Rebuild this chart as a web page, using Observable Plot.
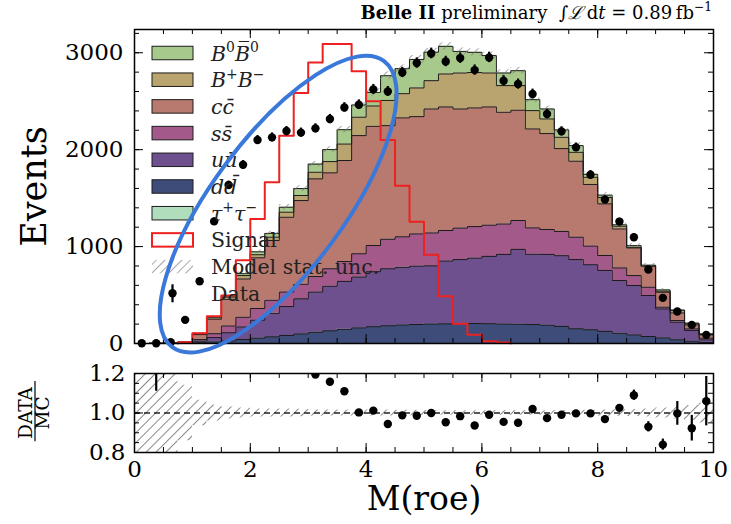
<!DOCTYPE html>
<html><head><meta charset="utf-8">
<script src="https://cdn.jsdelivr.net/npm/d3@7"></script>
<script src="https://cdn.jsdelivr.net/npm/@observablehq/plot@0.6"></script>
<style>
body{margin:0;background:#fff;}
#wrap{position:relative;width:731px;height:524px;overflow:hidden;font-family:"DejaVu Serif",serif;background:#fff;}
#main{position:absolute;left:0;top:0;}
#ratio{position:absolute;left:0;top:360px;}
</style></head><body><div id="wrap"><div id="main"></div><div id="ratio"></div></div>
<script>
// ---------------- data (40 bins of 0.25 in M(roe), 0..10) ----------------
const binWidth = 0.25;
const nBins = 40;
const tautau = [0,0,0,0,0,1,1,1,1,1,1,1,1,1,1,1,1,1,1,1,1,1,1,1,1,1,1,1,1,1,1,1,1,0,0,0,0,0,0,0];
const ddbar  = [0,0,0,2,8,15,25,40,55,68,82,98,115,130,145,160,172,182,190,195,200,202,205,205,203,200,198,195,188,175,151,141,124,106,89,72,58,38,24,10];
const uubar  = [0,1,2,3,17,45,85,130,185,242,298,362,415,460,495,525,568,588,595,602,600,648,660,675,695,718,772,725,730,730,714,671,629,544,509,423,299,182,110,28];
const ssbar  = [0,0,1,3,15,40,70,100,120,135,150,150,160,180,205,240,270,305,315,333,340,315,325,325,322,314,298,272,257,250,231,192,154,130,103,86,18,17,17,17];
const ccbar  = [0,1,2,4,52,150,275,395,523,617,772,864,1008,990,1042,1219,1230,1172,1227,1210,1279,1275,1229,1225,1220,1153,1138,1021,990,855,784,636,533,402,285,216,154,79,41,34];
const bpbm   = [0,0,0,2,8,15,23,35,32,34,52,52,68,116,170,190,210,260,250,296,292,340,371,365,350,275,254,189,151,117,92,74,65,28,7,3,11,24,11,4];
const b0b0   = [0,0,0,1,5,10,12,20,30,39,51,72,84,124,148,126,140,255,258,294,294,285,223,208,180,130,154,113,103,76,69,31,25,15,17,8,13,5,7,7];
const mcErr  = [1,2,3,3,7,11,15,18,19,23,28,30,28,30,33,37,39,41,40,41,39,37,36,36,36,33,34,30,29,29,29,26,25,22,20,18,14,10,8,5];
const signal = [0,0,0,14,106,280,495,860,1285,1663,2144,2584,2900,3090,3090,2810,2500,2100,1629,1255,917,488,205,90,24,10,0,0,0,0,0,0,0,0,0,0,0,0,0,0];
const dataVals = [3,3,13,244,642,1260,1635,1845,2100,2127,2192,2176,2220,2316,2436,2464,2622,2601,2797,2894,2993,2910,2945,2821,2952,2711,2677,2574,2368,2189,2024,1742,1485,1258,1096,763,471,330,192,89];
const dataErr  = [2,2,4,16,25,35,40,43,46,46,47,47,47,48,49,50,51,51,53,54,55,54,54,53,54,52,52,51,49,47,45,42,39,35,33,28,22,18,14,9];
// ratio panel
const ratioBins = [1,12,13,14,15,16,17,18,19,20,21,22,23,24,25,26,27,28,29,30,31,32,33,34,35,36,37,38,39];
const ratioVals = [1.6,1.195,1.158,1.11,1.003,1.012,0.944,0.988,0.986,1.0,0.953,0.984,0.937,0.991,0.955,0.951,1.02,0.974,0.991,0.998,0.998,0.969,1.026,1.09,0.93,0.84,0.998,0.923,1.06];
const ratioErr  = [0.49,0.02,0.015,0.015,0.013,0.013,0.013,0.013,0.013,0.013,0.013,0.013,0.013,0.013,0.013,0.013,0.013,0.013,0.013,0.014,0.014,0.015,0.017,0.026,0.026,0.028,0.06,0.065,0.125];
const ratioBand = [0.5,0.45,0.35,0.14,0.065,0.04,0.03,0.025,0.02,0.02,0.02,0.019,0.015,0.015,0.015,0.015,0.015,0.015,0.014,0.014,0.013,0.012,0.012,0.012,0.012,0.012,0.012,0.012,0.012,0.013,0.013,0.014,0.015,0.016,0.018,0.02,0.025,0.03,0.038,0.05];
// ticks
const xMajor = [0,2,4,6,8,10];
const xMinor = d3.range(0, 10.001, 0.5);
const yMajor = [0,1000,2000,3000];
const yMinor = d3.range(0, 3201, 200);
const rMajor = [0.8,1.0,1.2];
const rMinor = [0.8,0.85,0.9,0.95,1.0,1.05,1.1,1.15,1.2];
const colors = {tt:"#b0ddbc", dd:"#3e4c7a", uu:"#6f508e", ss:"#a35a8a", cc:"#b87a6e", bp:"#b9a46f", b0:"#a8c98c", sig:"#ee2020"};

// ---------------- derived geometry ----------------
const edges = d3.range(nBins + 1).map(i => i * binWidth);
const comps = [
  {c: colors.tt, v: tautau}, {c: colors.dd, v: ddbar}, {c: colors.uu, v: uubar},
  {c: colors.ss, v: ssbar}, {c: colors.cc, v: ccbar}, {c: colors.bp, v: bpbm}, {c: colors.b0, v: b0b0}
];
let base = new Array(nBins).fill(0);
const layers = comps.map(k => {
  const lo = base.slice();
  const hi = base.map((b, i) => b + k.v[i]);
  base = hi;
  const pts = edges.map((x, i) => ({x, lo: lo[Math.min(i, nBins - 1)], hi: hi[Math.min(i, nBins - 1)]}));
  return {color: k.c, pts};
});
const total = base;
const bins = d3.range(nBins).map(i => ({x0: edges[i], x1: edges[i + 1], t: total[i], e: mcErr[i]}));
const nz = d3.range(nBins).filter(i => signal[i] > 0);
const s0 = nz[0], s1 = nz[nz.length - 1];
const sigPts = [{x: edges[s0], y: 0}]
  .concat(d3.range(s0, s1 + 1).map(i => ({x: edges[i], y: signal[i]})))
  .concat([{x: edges[s1 + 1], y: signal[s1]}, {x: edges[s1 + 1], y: 0}]);
const dataPts = d3.range(nBins).map(i => ({x: edges[i] + binWidth / 2, v: dataVals[i], e: dataErr[i]}));
const ratioPts = ratioBins.map((b, j) => ({x: edges[b] + binWidth / 2, v: ratioVals[j], e: ratioErr[j]}));
const bandPts = edges.map((x, i) => ({x, e: ratioBand[Math.min(i, nBins - 1)]}));

const FONT = "DejaVu Serif";
const mW = 731, mH = 360, mL = 134, mR = 18, mT = 29, mB = 17;
const fw = mW - mL - mR, fh = mH - mT - mB;
const rH = 164, rT = 13, rB = 72, rfh = rH - rT - rB;

function inTicks(xMaj, xMin, yMaj, yMin, fwid, fhgt) {
  const M = 9, m = 5;
  return [
    Plot.tickX(xMin, {x: d => d, insetTop: fhgt - m, stroke: "black"}),
    Plot.tickX(xMaj, {x: d => d, insetTop: fhgt - M, stroke: "black"}),
    Plot.tickX(xMin, {x: d => d, insetBottom: fhgt - m, stroke: "black"}),
    Plot.tickX(xMaj, {x: d => d, insetBottom: fhgt - M, stroke: "black"}),
    Plot.tickY(yMin, {y: d => d, insetRight: fwid - m, stroke: "black"}),
    Plot.tickY(yMaj, {y: d => d, insetRight: fwid - M, stroke: "black"}),
    Plot.tickY(yMin, {y: d => d, insetLeft: fwid - m, stroke: "black"}),
    Plot.tickY(yMaj, {y: d => d, insetLeft: fwid - M, stroke: "black"})
  ];
}

// ---------------- main panel ----------------
const main = Plot.plot({
  width: mW, height: mH, marginLeft: mL, marginRight: mR, marginTop: mT, marginBottom: mB,
  style: {fontFamily: FONT, fontSize: "23px", background: "transparent", color: "black", overflow: "visible"},
  x: {domain: [0, 10], axis: null},
  y: {domain: [0, 3240]},
  marks: [
    ...layers.map(L => Plot.areaY(L.pts, {x: "x", y1: "lo", y2: "hi", curve: "step-after", fill: L.color})),
    ...layers.slice(1).map(L => Plot.lineY(L.pts, {x: "x", y: "hi", curve: "step-after", stroke: "#1c1c1c", strokeWidth: 1})),
    Plot.rect(bins, {x1: "x0", x2: "x1", y1: d => d.t - d.e, y2: d => d.t + d.e, fill: "url(#hatchM)"}),
    Plot.lineY(sigPts, {x: "x", y: "y", curve: "step-after", stroke: colors.sig, strokeWidth: 2}),
    Plot.ruleX(dataPts, {x: "x", y1: d => d.v - d.e, y2: d => d.v + d.e, stroke: "black", strokeWidth: 2.2}),
    Plot.dot(dataPts, {x: "x", y: "v", r: 4.2, fill: "black"}),
    ...inTicks(xMajor, xMinor, yMajor, yMinor, fw, fh),
    Plot.axisY(yMajor, {label: null, tickSize: 0, tickPadding: 11, tickFormat: d3.format("d"), fontSize: 23}),
    Plot.text(["Events"], {text: d => d, frameAnchor: "left", textAnchor: "middle", dx: -100, rotate: -90, fontSize: 35}),
    Plot.frame({stroke: "black", strokeWidth: 1.5})
  ]
});
document.getElementById("main").appendChild(main);

// ---------------- ratio panel ----------------
const ratio = Plot.plot({
  width: mW, height: rH, marginLeft: mL, marginRight: mR, marginTop: rT, marginBottom: rB,
  style: {fontFamily: FONT, fontSize: "23px", background: "transparent", color: "black", overflow: "visible"},
  x: {domain: [0, 10]},
  y: {domain: [0.8, 1.2]},
  marks: [
    Plot.areaY(bandPts, {x: "x", y1: d => 1 - d.e, y2: d => 1 + d.e, curve: "step-after", fill: "url(#hatchR)", clip: true}),
    Plot.ruleY([1], {stroke: "#222", strokeWidth: 1.3, strokeDasharray: "6,4"}),
    Plot.ruleX(ratioPts, {x: "x", y1: d => d.v - d.e, y2: d => d.v + d.e, stroke: "black", strokeWidth: 2.2, clip: true}),
    Plot.dot(ratioPts, {x: "x", y: "v", r: 4.2, fill: "black", clip: true}),
    ...inTicks(xMajor, xMinor, rMajor, rMinor, fw, rfh),
    Plot.axisX(xMajor, {label: null, tickSize: 0, tickPadding: 8, tickFormat: d3.format("d"), fontSize: 23}),
    Plot.axisY(rMajor, {label: null, tickSize: 0, tickPadding: 9, tickFormat: d3.format(".1f"), fontSize: 23}),
    Plot.text(["M(roe)"], {text: d => d, frameAnchor: "bottom", dy: 57, fontSize: 33}),
    Plot.text(["DATA"], {text: d => d, frameAnchor: "left", textAnchor: "middle", dx: -108, rotate: -90, fontSize: 18.5}),
    Plot.text(["MC"], {text: d => d, frameAnchor: "left", textAnchor: "middle", dx: -91, rotate: -90, fontSize: 18.5}),
    Plot.ruleX([0], {x: d => d, y1: 0.855, y2: 1.16, dx: -99.5, stroke: "black", strokeWidth: 1.2}),
    Plot.frame({stroke: "black", strokeWidth: 1.5})
  ]
});
document.getElementById("ratio").appendChild(ratio);

// ---------------- hatch patterns ----------------
function addHatch(svg, id, gap, color, w) {
  const defs = d3.select(svg).insert("defs", ":first-child");
  const p = defs.append("pattern").attr("id", id).attr("patternUnits", "userSpaceOnUse")
    .attr("width", gap).attr("height", gap).attr("patternTransform", "rotate(45)");
  p.append("line").attr("x1", 0).attr("y1", 0).attr("x2", 0).attr("y2", gap)
    .attr("stroke", color).attr("stroke-width", w);
}
addHatch(main, "hatchM", 6, "#777", 1.3);
addHatch(ratio, "hatchR", 7, "#555", 1.4);

// ---------------- rich text helper ----------------
function rich(sel, parts, size) {
  let shift = 0;
  parts.forEach(([t, s]) => {
    const ts = sel.append("tspan").text(t);
    const target = s === "sup" ? -0.42 * size : 0;
    if (target - shift !== 0) ts.attr("dy", target - shift);
    shift = target;
    if (s === "sup") ts.attr("font-size", size * 0.68);
    if (s === "i") ts.attr("font-style", "italic");
    if (s === "b") ts.attr("font-weight", "bold");
  });
}

// ---------------- legend ----------------
const legendItems = [
  {kind: "patch", fill: colors.b0, label: [["B", "i"], ["0", "sup"], ["B\u0305", "i"], ["0", "sup"]]},
  {kind: "patch", fill: colors.bp, label: [["B", "i"], ["+", "sup"], ["B", "i"], ["\u2212", "sup"]]},
  {kind: "patch", fill: colors.cc, label: [["cc\u0304", "i"]]},
  {kind: "patch", fill: colors.ss, label: [["ss\u0304", "i"]]},
  {kind: "patch", fill: colors.uu, label: [["uu\u0304", "i"]]},
  {kind: "patch", fill: colors.dd, label: [["dd\u0304", "i"]]},
  {kind: "patch", fill: colors.tt, label: [["\u03c4", "i"], ["+", "sup"], ["\u03c4", "i"], ["\u2212", "sup"]]},
  {kind: "signal", label: [["Signal", "r"]]},
  {kind: "hatch", label: [["Model stat. unc.", "r"]]},
  {kind: "data", label: [["Data", "r"]]}
];
const lg = d3.select(main).append("g").attr("font-family", FONT).attr("font-size", 20.5).attr("text-anchor", "start");
const lx0 = 152, lw = 41, lhgt = 13.5, ly0 = 53, lstep = 26.7, ltx = 211;
legendItems.forEach((it, i) => {
  const cy = ly0 + i * lstep;
  if (it.kind === "patch") {
    lg.append("rect").attr("x", lx0).attr("y", cy - lhgt / 2).attr("width", lw).attr("height", lhgt)
      .attr("fill", it.fill).attr("stroke", "#1c1c1c").attr("stroke-width", 1);
  } else if (it.kind === "signal") {
    lg.append("rect").attr("x", lx0).attr("y", cy - lhgt / 2).attr("width", lw).attr("height", lhgt)
      .attr("fill", "white").attr("stroke", colors.sig).attr("stroke-width", 2);
  } else if (it.kind === "hatch") {
    lg.append("rect").attr("x", lx0).attr("y", cy - lhgt / 2).attr("width", lw).attr("height", lhgt)
      .attr("fill", "url(#hatchM)");
  } else {
    lg.append("line").attr("x1", lx0 + lw / 2).attr("x2", lx0 + lw / 2).attr("y1", cy - 9).attr("y2", cy + 9)
      .attr("stroke", "black").attr("stroke-width", 2.2);
    lg.append("circle").attr("cx", lx0 + lw / 2).attr("cy", cy).attr("r", 4.2).attr("fill", "black");
  }
  const t = lg.append("text").attr("x", ltx).attr("y", cy + 7.5).attr("fill", "#222").attr("text-anchor", "start");
  rich(t, it.label, 20.5);
});

// ---------------- title ----------------
const tt = d3.select(main).append("text").attr("x", 712).attr("y", 19).attr("text-anchor", "end")
  .attr("font-family", FONT).attr("font-size", 18).attr("fill", "black");
rich(tt, [["Belle II", "b"], [" preliminary  \u222b", "r"], ["\u2112", "i"], ["\u2009d", "r"], ["t", "i"], [" = 0.89\u2009fb", "r"], ["\u22121", "sup"]], 18);

// ---------------- annotation ellipse (data coords via plot scales) ----------------
const ellCenter = {x: 2.49, y: 1433};
const sx = main.scale("x"), sy = main.scale("y");
const ecx = sx.apply(ellCenter.x), ecy = sy.apply(ellCenter.y);
d3.select(main).append("ellipse").attr("cx", ecx).attr("cy", ecy).attr("rx", 178).attr("ry", 66)
  .attr("transform", `rotate(-53.5 ${ecx} ${ecy})`)
  .attr("fill", "none").attr("stroke", "#3a78da").attr("stroke-width", 4);
</script></body></html>
